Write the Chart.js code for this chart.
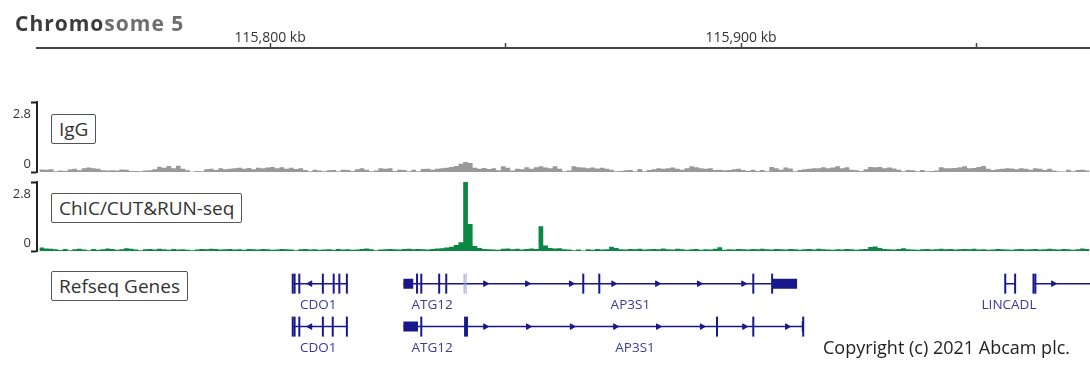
<!DOCTYPE html>
<html>
<head>
<meta charset="utf-8">
<title>Chromosome 5</title>
<script src="https://cdn.jsdelivr.net/npm/chart.js"></script>
<style>
  body { margin: 0; background: #fff; }
  #wrap { position: relative; width: 1090px; height: 370px; font-family: 'Open Sans', sans-serif; }
  #wrap canvas { position: absolute; left: 0; top: 0; }
  .title { position: absolute; left: 15px; top: 9px; font-size: 21px; font-weight: 700; letter-spacing: 1px; line-height: 28px; color: #6e6e6e; white-space: nowrap; }
  .title span { color: #3b3b3b; }
  .track-label { position: absolute; left: 51px; height: 30px; box-sizing: border-box; padding: 0 7px; border: 1px solid #555; border-radius: 2px; font-size: 19px; line-height: 28px; color: #333; background: #fff; white-space: nowrap; }
  .copyright { position: absolute; left: 823px; top: 334px; font-size: 18px; line-height: 26px; color: #222; white-space: nowrap; }
</style>
</head>
<body>
<div id="wrap">
  <canvas id="browserChart" width="1090" height="370"></canvas>
  <div class="title"><span>Chromo</span>some 5</div>
  <div class="track-label" style="top:114px">IgG</div>
  <div class="track-label" style="top:193px">ChIC/CUT&amp;RUN-seq</div>
  <div class="track-label" style="top:271px">Refseq Genes</div>
  <div class="copyright">Copyright (c) 2021 Abcam plc.</div>
</div>
<script>
// genomic window (kb) and ruler ticks
const viewStartKb = 115750.5;
const viewEndKb = 115974.1;
const axisTickKb = [115800, 115850, 115900, 115950];
const axisTickLabels = ['115,800 kb', '', '115,900 kb', ''];

// coverage tracks, 1 kb bins starting at binStartKb
const binStartKb = 115751;
const trackMax = 2.8;
const iggSignal = [
    0.10, 0.09, 0.11, 0.03, 0.06, 0.04, 0.10, 0.13, 0.07, 0.15,
    0.18, 0.15, 0.13, 0.07, 0.06, 0.07, 0.06, 0.10, 0.09, 0.04,
    0.04, 0.03, 0.06, 0.07, 0.11, 0.21, 0.17, 0.24, 0.15, 0.25,
    0.13, 0.07, 0.01, 0.04, 0.03, 0.11, 0.13, 0.08, 0.15, 0.11,
    0.13, 0.15, 0.17, 0.13, 0.16, 0.11, 0.17, 0.15, 0.18, 0.20,
    0.15, 0.19, 0.13, 0.17, 0.12, 0.15, 0.08, 0.03, 0.09, 0.06,
    0.03, 0.07, 0.08, 0.03, 0.09, 0.08, 0.04, 0.11, 0.15, 0.09,
    0.03, 0.06, 0.15, 0.13, 0.15, 0.04, 0.09, 0.08, 0.03, 0.09,
    0.03, 0.12, 0.13, 0.09, 0.13, 0.15, 0.17, 0.20, 0.24, 0.33,
    0.40, 0.36, 0.17, 0.13, 0.16, 0.12, 0.15, 0.07, 0.23, 0.17,
    0.06, 0.13, 0.11, 0.19, 0.13, 0.19, 0.23, 0.18, 0.15, 0.23,
    0.13, 0.03, 0.06, 0.23, 0.19, 0.18, 0.15, 0.18, 0.14, 0.17,
    0.13, 0.09, 0.03, 0.04, 0.07, 0.08, 0.03, 0.12, 0.03, 0.08,
    0.11, 0.15, 0.13, 0.15, 0.18, 0.13, 0.09, 0.15, 0.23, 0.19,
    0.15, 0.13, 0.15, 0.08, 0.09, 0.07, 0.08, 0.11, 0.13, 0.08,
    0.04, 0.09, 0.04, 0.08, 0.03, 0.20, 0.15, 0.09, 0.18, 0.14,
    0.03, 0.08, 0.11, 0.13, 0.15, 0.15, 0.19, 0.15, 0.18, 0.23,
    0.15, 0.19, 0.09, 0.07, 0.04, 0.11, 0.20, 0.19, 0.20, 0.15,
    0.18, 0.14, 0.09, 0.03, 0.08, 0.07, 0.03, 0.08, 0.03, 0.04,
    0.06, 0.19, 0.15, 0.15, 0.16, 0.19, 0.23, 0.15, 0.16, 0.20,
    0.24, 0.13, 0.08, 0.11, 0.13, 0.15, 0.14, 0.11, 0.15, 0.13,
    0.09, 0.15, 0.13, 0.08, 0.13, 0.06, 0.03, 0.02, 0.09, 0.03, 0.08, 0.09, 0.06
];
const chicSignal = [
    0.14, 0.10, 0.09, 0.07, 0.04, 0.08, 0.03, 0.07, 0.09, 0.06,
    0.03, 0.08, 0.05, 0.07, 0.10, 0.08, 0.05, 0.07, 0.11, 0.09,
    0.06, 0.03, 0.07, 0.08, 0.06, 0.09, 0.07, 0.05, 0.08, 0.06,
    0.07, 0.05, 0.03, 0.06, 0.08, 0.07, 0.09, 0.08, 0.06, 0.07,
    0.08, 0.06, 0.07, 0.05, 0.08, 0.07, 0.06, 0.08, 0.07, 0.05,
    0.06, 0.08, 0.07, 0.06, 0.03, 0.07, 0.08, 0.06, 0.07, 0.05,
    0.06, 0.07, 0.05, 0.08, 0.06, 0.07, 0.05, 0.06, 0.08, 0.10,
    0.07, 0.03, 0.06, 0.07, 0.08, 0.07, 0.06, 0.08, 0.09, 0.07,
    0.08, 0.07, 0.06, 0.08, 0.10, 0.11, 0.14, 0.17, 0.24, 0.36,
    2.80, 1.10, 0.20, 0.12, 0.08, 0.07, 0.06, 0.05, 0.09, 0.10,
    0.07, 0.09, 0.06, 0.08, 0.10, 0.08, 1.00, 0.22, 0.12, 0.10,
    0.11, 0.07, 0.06, 0.03, 0.06, 0.02, 0.07, 0.05, 0.08, 0.06,
    0.07, 0.17, 0.12, 0.07, 0.06, 0.08, 0.07, 0.09, 0.06, 0.07,
    0.08, 0.07, 0.10, 0.07, 0.06, 0.09, 0.07, 0.05, 0.07, 0.08,
    0.05, 0.07, 0.06, 0.09, 0.15, 0.05, 0.07, 0.06, 0.08, 0.07,
    0.06, 0.08, 0.07, 0.09, 0.07, 0.06, 0.08, 0.07, 0.06, 0.08,
    0.07, 0.05, 0.07, 0.08, 0.06, 0.09, 0.07, 0.06, 0.05, 0.07,
    0.06, 0.08, 0.07, 0.05, 0.07, 0.08, 0.16, 0.18, 0.12, 0.08,
    0.07, 0.06, 0.08, 0.11, 0.07, 0.06, 0.05, 0.07, 0.08, 0.06,
    0.07, 0.09, 0.07, 0.08, 0.06, 0.07, 0.08, 0.07, 0.09, 0.06,
    0.07, 0.05, 0.06, 0.08, 0.07, 0.06, 0.05, 0.07, 0.08, 0.06,
    0.07, 0.08, 0.06, 0.07, 0.09, 0.07, 0.06, 0.08, 0.07, 0.05, 0.07, 0.10, 0.08
];

// gene models: [startKb, endKb, row]
const geneLines = [
    [115804.8, 115816.4, 1], [115828.3, 115911.9, 1], [115956.1, 115958.2, 1], [115962.1, 115974.1, 1],
    [115804.8, 115816.4, 2], [115828.3, 115913.2, 2]
];
const geneBlocks = [
    [115828.3, 115830.4, 1], [115906.6, 115911.9, 1],
    [115828.3, 115831.4, 2], [115912.9, 115913.3, 2]
];
// exon marks: [kb, row]
const exonMarks = [
    [115804.8, 1], [115805.2, 1], [115806.2, 1], [115811.2, 1], [115813.5, 1], [115814.7, 1], [115816.3, 1],
    [115831.2, 1], [115832.1, 1], [115835.9, 1], [115837.4, 1], [115866.5, 1], [115869.9, 1],
    [115902.6, 1], [115906.6, 1], [115956.1, 1], [115958.2, 1], [115962.1, 1], [115962.5, 1],
    [115804.8, 2], [115805.2, 2], [115806.2, 2], [115811.2, 2], [115813.3, 2], [115816.3, 2],
    [115832.1, 2], [115841.4, 2], [115841.8, 2], [115894.9, 2], [115902.6, 2], [115913.2, 2]
];
const faintExonMarks = [[115841.2, 1], [115841.6, 1]];
const strandPlus = [
    [115845.7, 1], [115854.6, 1], [115863.9, 1], [115872.9, 1], [115882.2, 1], [115891.1, 1], [115900.5, 1], [115966.3, 1],
    [115845.7, 2], [115854.8, 2], [115864.1, 2], [115873.3, 2], [115882.4, 2], [115891.7, 2], [115900.7, 2], [115909.8, 2]
];
const strandMinus = [[115808.5, 1], [115808.5, 2]];
const geneNames = ['CDO1', 'ATG12', 'AP3S1', 'LINCADL', 'CDO1', 'ATG12', 'AP3S1'];
const geneNameKb = [115810.2, 115834.4, 115876.5, 115956.9, 115810.2, 115834.4, 115877.5];
const geneNameRow = [1, 1, 1, 1, 2, 2, 2];

const geneColor = '#18188c';

function binPoints(values) {
    const pts = values.map((v, i) => ({x: binStartKb + i, y: v}));
    pts.push({x: binStartKb + values.length, y: values[values.length - 1]});
    return pts;
}

function segmentPoints(segs) {
    const pts = [];
    segs.forEach(function (s) {
        pts.push({x: s[0], y: s[2]}, {x: s[1], y: s[2]}, {x: s[1], y: null});
    });
    return pts;
}

function markPoints(marks) {
    return marks.map(m => ({x: m[0], y: m[1]}));
}

const noPadding = function (scale) {
    scale.paddingLeft = 0;
    scale.paddingRight = 0;
    scale.paddingTop = 0;
    scale.paddingBottom = 0;
};
const fixWidth = function (scale) { scale.width = 37; noPadding(scale); };
const bracketTicks = function (scale) { scale.ticks = [{value: 0}, {value: trackMax}]; };

const bracketAxis = function (weight, stackWeight) {
    return {
        type: 'linear', position: 'left', stack: 'tracks', stackWeight: stackWeight, weight: weight,
        min: 0, max: trackMax,
        border: {display: true, color: '#222', width: 2},
        grid: {display: true, drawOnChartArea: false, drawTicks: true, tickLength: 6, tickWidth: 2, tickColor: '#222'},
        ticks: {display: false},
        afterBuildTicks: bracketTicks,
        afterFit: fixWidth
    };
};

const spacerAxis = function (weight, stackWeight) {
    return {type: 'linear', position: 'left', stack: 'tracks', stackWeight: stackWeight, weight: weight,
        display: false, afterFit: fixWidth};
};

// value labels inside the track brackets + gene names under the models
const trackTextPlugin = {
    id: 'trackText',
    afterDraw(chart) {
        const ctx = chart.ctx;
        ctx.save();
        ctx.font = '13px "Open Sans"';
        ctx.fillStyle = '#333';
        ctx.textAlign = 'right';
        ctx.textBaseline = 'middle';
        ['yIgG', 'yChic'].forEach(function (id) {
            const s = chart.scales[id];
            ctx.fillText(String(s.max), s.right - 6, s.top + 12);
            ctx.fillText(String(s.min), s.right - 6, s.bottom - 8);
        });
        const xs = chart.scales.x;
        const ys = chart.scales.yGenes;
        ctx.font = '13.5px "Open Sans"';
        ctx.fillStyle = '#3a3a9c';
        ctx.textAlign = 'center';
        geneNames.forEach(function (name, i) {
            ctx.fillText(name, xs.getPixelForValue(geneNameKb[i]), ys.getPixelForValue(geneNameRow[i]) + 22);
        });
        ctx.restore();
    }
};

const ctx = document.getElementById('browserChart').getContext('2d');

new Chart(ctx, {
    type: 'line',
    data: {
        datasets: [
            {
                label: 'exons', type: 'scatter', yAxisID: 'yGenes', data: markPoints(exonMarks),
                pointStyle: 'line', pointRotation: 90, pointRadius: 10, pointBorderWidth: 2,
                pointBorderColor: geneColor, pointBackgroundColor: geneColor
            },
            {
                label: 'exons faint', type: 'scatter', yAxisID: 'yGenes', data: markPoints(faintExonMarks),
                pointStyle: 'line', pointRotation: 90, pointRadius: 10, pointBorderWidth: 1,
                pointBorderColor: '#9b9bcf'
            },
            {
                label: 'strand +', type: 'scatter', yAxisID: 'yGenes', data: markPoints(strandPlus),
                pointStyle: 'triangle', pointRotation: 90, pointRadius: 3.2, pointBorderWidth: 1,
                pointBorderColor: geneColor, pointBackgroundColor: geneColor
            },
            {
                label: 'strand -', type: 'scatter', yAxisID: 'yGenes', data: markPoints(strandMinus),
                pointStyle: 'triangle', pointRotation: -90, pointRadius: 3.2, pointBorderWidth: 1,
                pointBorderColor: geneColor, pointBackgroundColor: geneColor
            },
            {
                label: 'utr', yAxisID: 'yGenes', data: segmentPoints(geneBlocks),
                borderColor: geneColor, borderWidth: 10, borderCapStyle: 'butt', pointRadius: 0, fill: false, spanGaps: false
            },
            {
                label: 'introns', yAxisID: 'yGenes', data: segmentPoints(geneLines),
                borderColor: geneColor, borderWidth: 1.5, pointRadius: 0, fill: false, spanGaps: false
            },
            {
                label: 'IgG', yAxisID: 'yIgG', data: binPoints(iggSignal),
                stepped: 'before', fill: 'origin', backgroundColor: '#999999',
                borderColor: 'rgba(0,0,0,0)', borderWidth: 0, pointRadius: 0
            },
            {
                label: 'ChIC/CUT&RUN-seq', yAxisID: 'yChic', data: binPoints(chicSignal),
                stepped: 'before', fill: 'origin', backgroundColor: '#0b8744',
                borderColor: 'rgba(0,0,0,0)', borderWidth: 0, pointRadius: 0
            }
        ]
    },
    options: {
        responsive: false,
        animation: false,
        events: [],
        layout: {padding: 0, autoPadding: false},
        plugins: {
            legend: {display: false},
            tooltip: {enabled: false}
        },
        scales: {
            x: {
                type: 'linear', position: 'top', min: viewStartKb, max: viewEndKb,
                border: {display: true, color: '#444', width: 2},
                grid: {display: true, drawOnChartArea: false, tickLength: 5, tickWidth: 1.5, tickColor: '#444'},
                ticks: {
                    autoSkip: false, maxRotation: 0, padding: -3, color: '#333',
                    font: {family: 'Open Sans', size: 14},
                    callback: function (value, index) {
                        return axisTickLabels[index] || '';
                    }
                },
                afterBuildTicks: function (scale) {
                    scale.ticks = axisTickKb.map(v => ({value: v}));
                },
                afterFit: function (scale) {
                    scale.height = 48;
                    noPadding(scale);
                }
            },
            ySpaceTop: spacerAxis(5, 54),
            yIgG: bracketAxis(4, 70),
            ySpaceMid: spacerAxis(3, 10),
            yChic: bracketAxis(2, 69),
            yGenes: {
                type: 'linear', position: 'left', stack: 'tracks', stackWeight: 119, weight: 1,
                min: 0.24, max: 3.01, reverse: true, display: false, afterFit: fixWidth
            }
        }
    },
    plugins: [trackTextPlugin]
});
</script>
</body>
</html>
